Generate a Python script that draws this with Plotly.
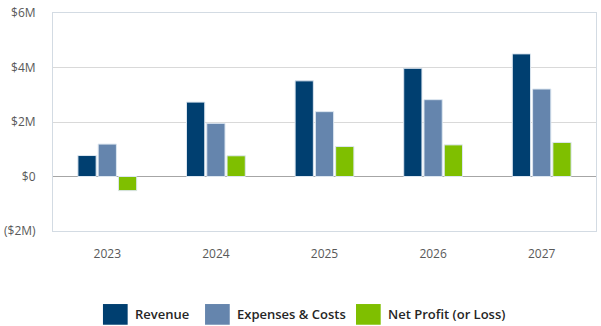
import plotly.graph_objects as go

# Five-year financial projection, values in millions of dollars
years = ["2023", "2024", "2025", "2026", "2027"]
revenue = [0.77, 2.73, 3.51, 3.97, 4.50]
expenses = [1.19, 1.95, 2.38, 2.82, 3.21]
net_profit = [-0.52, 0.76, 1.10, 1.16, 1.25]

series_names = ["Revenue", "Expenses & Costs", "Net Profit (or Loss)"]
series_colors = ["#003f70", "#6585ad", "#7fbf00"]

y_tick_vals = [-2, 0, 2, 4, 6]
y_tick_text = ["($2M)", "$0", "$2M", "$4M", "$6M"]

fig = go.Figure()
for name, vals, color in zip(series_names, [revenue, expenses, net_profit], series_colors):
    fig.add_trace(go.Bar(
        x=years, y=vals, name=name,
        marker=dict(color=color, line=dict(color="#dce6f0", width=1)),
        showlegend=False,
    ))

# Legend drawn as large swatches with labels beneath the plot
legend_x = [0.092, 0.280, 0.558]
for (name, color), lx in zip(zip(series_names, series_colors), legend_x):
    fig.add_shape(type="rect", xref="paper", yref="paper",
                  x0=lx, x1=lx + 0.0455, y0=-0.43, y1=-0.335,
                  fillcolor=color, line=dict(width=0))
    fig.add_annotation(x=lx + 0.055, y=-0.382, xref="paper", yref="paper",
                       text=name, showarrow=False, xanchor="left", yanchor="middle",
                       font=dict(family="Open Sans", size=13, color="#262626", weight=600))

fig.update_layout(
    width=601, height=326,
    margin=dict(l=53, r=4, t=10, b=95),
    paper_bgcolor="white", plot_bgcolor="white",
    barmode="group", bargap=0.44, bargroupgap=0.1,
    font=dict(family="Open Sans", size=12, color="#595959"),
)
fig.update_xaxes(
    showgrid=False, showline=True, linecolor="#d3dbe3", linewidth=1, mirror=True,
    ticks="", ticklabelstandoff=12, tickfont=dict(size=12, color="#595959"),
)
fig.update_yaxes(
    range=[-2, 6], tickvals=y_tick_vals, ticktext=y_tick_text,
    showgrid=True, gridcolor="#d9d9d9", gridwidth=1,
    zeroline=True, zerolinecolor="#a6a6a6", zerolinewidth=1,
    showline=True, linecolor="#d3dbe3", linewidth=1, mirror=True,
    ticks="", ticklabelstandoff=14, tickfont=dict(size=12, color="#595959"),
)

fig.write_html("out.html")
